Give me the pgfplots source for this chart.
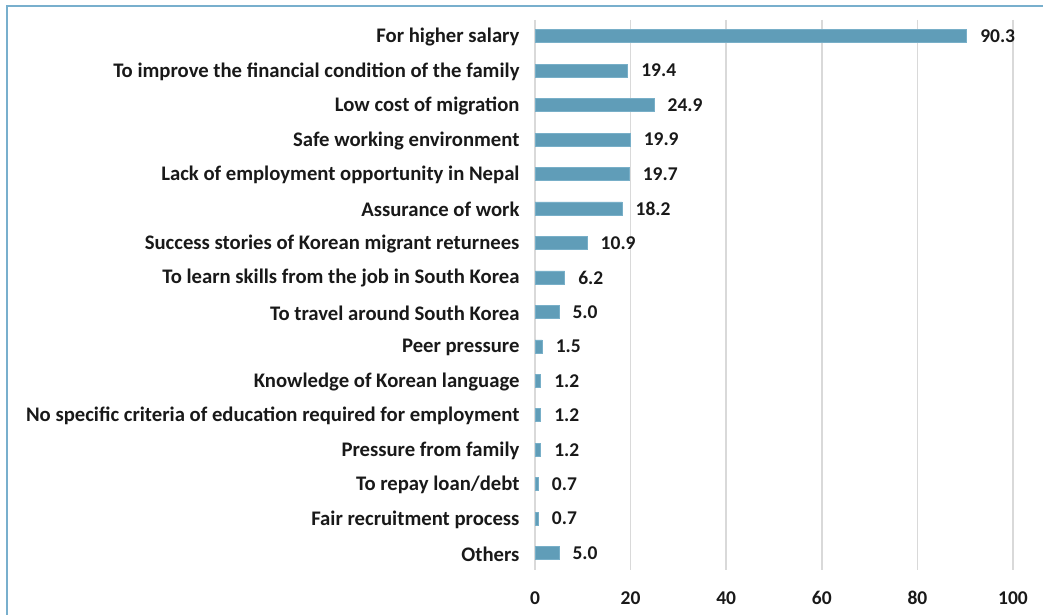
\documentclass[border=0pt]{standalone}
\usepackage{pgfplots}
\pgfplotsset{compat=1.18}
\usepackage{pgfplotstable}
\usepackage{fontspec}
\setmainfont{Carlito}
\definecolor{barblue}{RGB}{96,157,184}
\definecolor{baredge}{RGB}{120,175,200}
\definecolor{gridgray}{RGB}{217,217,217}
\definecolor{framebl}{RGB}{120,175,205}
\pgfplotstableread[col sep=semicolon]{
pos;val;lab
0;90.3;90.3
1;19.4;19.4
2;24.9;24.9
3;19.9;19.9
4;19.7;19.7
5;18.2;18.2
6;10.9;10.9
7;6.2;6.2
8;5.0;5.0
9;1.5;1.5
10;1.2;1.2
11;1.2;1.2
12;1.2;1.2
13;0.7;0.7
14;0.7;0.7
15;5.0;5.0
}\datatab
\begin{document}
\begin{tikzpicture}[x=1bp,y=1bp]
\useasboundingbox (0,0) rectangle (1043,615);
\draw[framebl,line width=2bp] (7,0) -- (7,609) -- (1043,609);
\begin{axis}[
  at={(535bp,45bp)}, anchor=south west,
  scale only axis, width=478bp, height=550bp,
  xmin=0, xmax=100,
  ymin=-0.47, ymax=15.49, y dir=reverse,
  xbar, bar width=13bp,
  axis line style={draw=none},
  xmajorgrids, grid style={gridgray,line width=1.5bp},
  xtick={0,20,40,60,80,100},
  ytick={0,...,15},
  yticklabels={For higher salary,To improve the financial condition of the family,Low cost of migration,Safe working environment,Lack of employment opportunity in Nepal,Assurance of work,Success stories of Korean migrant returnees,To learn skills from the job in South Korea,To travel around South Korea,Peer pressure,Knowledge of Korean language,No specific criteria of education required for employment,Pressure from family,To repay loan/debt,Fair recruitment process,Others},
  major tick length=0pt,
  /pgf/number format/assume math mode=true,
  tick label style={font=\fontsize{19.5bp}{23bp}\selectfont\bfseries, text=black!90},
  yticklabel style={anchor=east, xshift=-12bp, yshift=-1bp, font=\fontsize{20.7bp}{24bp}\selectfont\bfseries},
  xticklabel style={anchor=center, yshift=-28bp},
  nodes near coords,
  point meta=explicit symbolic,
  nodes near coords style={font=\fontsize{19.5bp}{23bp}\selectfont\bfseries, text=black!90, anchor=west, xshift=10bp},
  clip=false,
]
\addplot[fill=barblue, draw=baredge, line width=0.6bp] table[x=val, y=pos, meta=lab] {\datatab};
\end{axis}
\end{tikzpicture}
\end{document}
